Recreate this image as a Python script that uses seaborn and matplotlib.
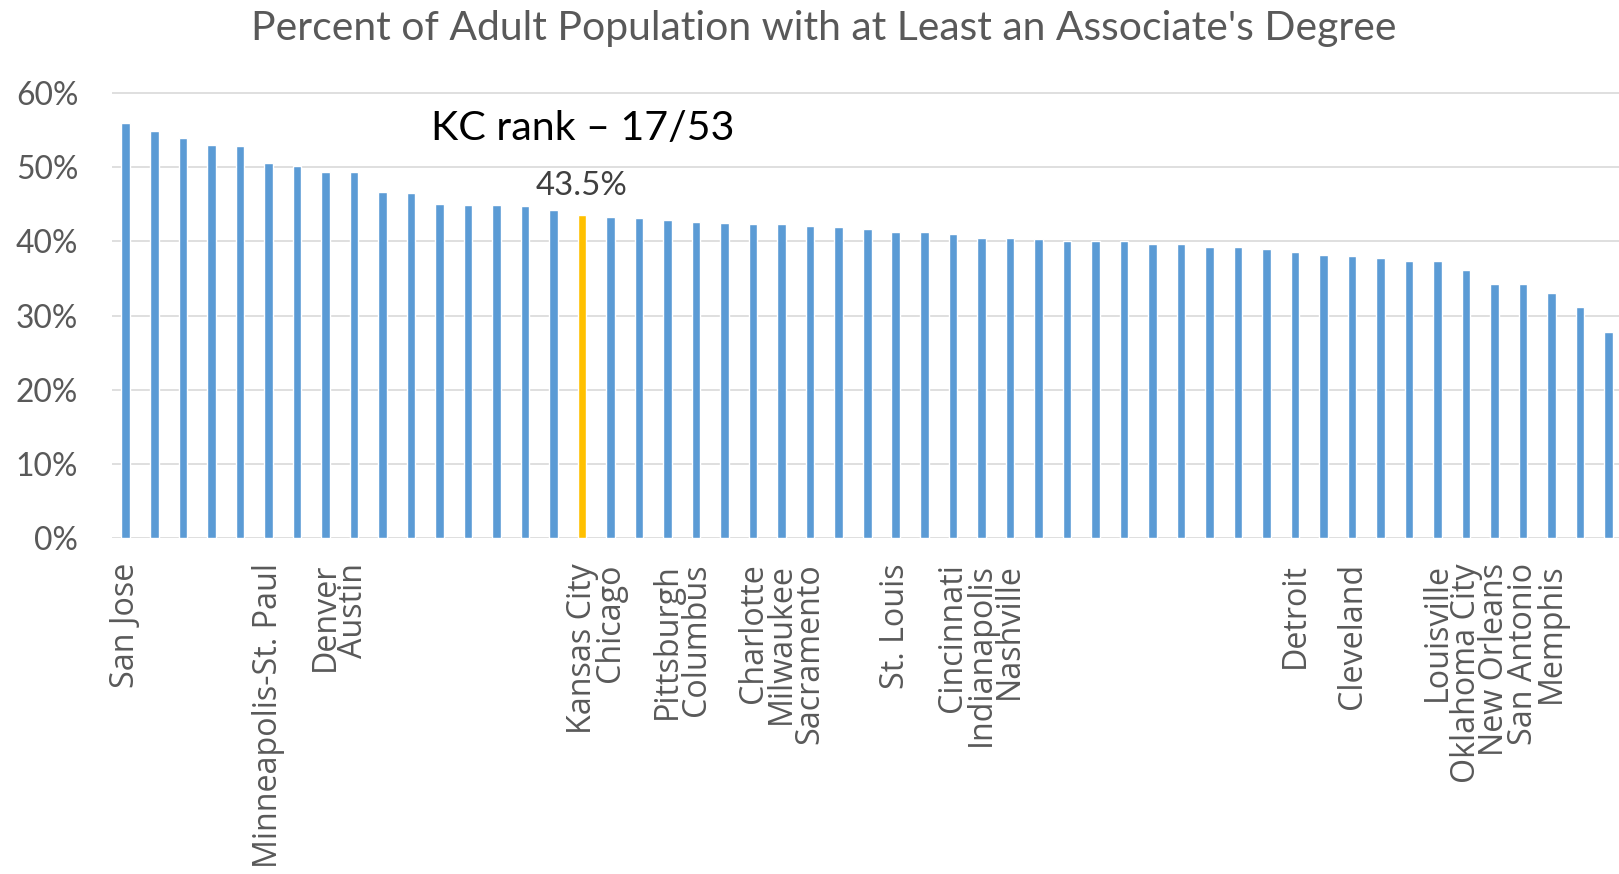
import numpy as np
import pandas as pd
import matplotlib
matplotlib.use("Agg")
import matplotlib.pyplot as plt
import seaborn as sns
from matplotlib.ticker import PercentFormatter, FixedLocator

# ---------------- data ----------------
title = "Percent of Adult Population with at Least an Associate's Degree"
annotation = "KC rank \u2013 17/53"

cities = [
    "San Jose", "", "", "", "", "Minneapolis-St. Paul", "", "Denver", "Austin", "",
    "", "", "", "", "", "", "Kansas City", "Chicago", "", "Pittsburgh",
    "Columbus", "", "Charlotte", "Milwaukee", "Sacramento", "", "", "St. Louis", "", "Cincinnati",
    "Indianapolis", "Nashville", "", "", "", "", "", "", "", "",
    "", "Detroit", "", "Cleveland", "", "", "Louisville", "Oklahoma City", "New Orleans", "San Antonio",
    "Memphis", "", "",
]
values = [
    55.9, 54.9, 53.9, 53.0, 52.8, 50.5, 50.2, 49.3, 49.3, 46.6,
    46.5, 45.1, 44.9, 44.9, 44.7, 44.2, 43.5, 43.3, 43.1, 42.9,
    42.6, 42.5, 42.4, 42.3, 42.1, 42.0, 41.6, 41.3, 41.2, 41.0,
    40.5, 40.4, 40.3, 40.0, 40.0, 40.0, 39.7, 39.6, 39.3, 39.3,
    39.0, 38.5, 38.2, 38.0, 37.8, 37.3, 37.3, 36.2, 34.3, 34.2,
    33.1, 31.1, 27.8,
]
highlight = "Kansas City"
yticks = [0.0, 0.1, 0.2, 0.3, 0.4, 0.5, 0.6]

df = pd.DataFrame({
    "rank": list(range(1, len(values) + 1)),
    "share": [v / 100 for v in values],
    "city": cities,
})
df["group"] = np.where(df["city"] == highlight, "KC", "Other")

# ---------------- figure ----------------
W, H, DPI = 1619, 874, 100
sns.set_theme(style="white")
plt.rcParams["font.family"] = ["Lato", "DejaVu Sans"]

fig = plt.figure(figsize=(W / DPI, H / DPI), dpi=DPI)
fig.patch.set_facecolor("white")

y0_px, ytop_val = 538.0, 0.62
px_per_unit = (538.0 - 93.0) / 0.6
ytop_px = y0_px - ytop_val * px_per_unit
left_px, right_px = 111.5, 1623.0
ax = fig.add_axes([left_px / W, 1 - y0_px / H, (right_px - left_px) / W, (y0_px - ytop_px) / H])

sns.barplot(
    data=df, x="rank", y="share", hue="group",
    palette={"Other": "#5B9BD5", "KC": "#FFC000"},
    dodge=False, width=0.30, saturation=1, legend=False, ax=ax,
)

ax.set_xlim(-0.5, len(values) - 0.5)
ax.set_ylim(0, ytop_val)
ax.yaxis.set_major_locator(FixedLocator(yticks))
ax.yaxis.set_major_formatter(PercentFormatter(1.0, decimals=0))
ax.grid(axis="y", color="#D9D9D9", linewidth=1.2)
ax.grid(axis="x", visible=False)
ax.set_axisbelow(True)
for s in ax.spines.values():
    s.set_visible(False)
ax.set_xlabel("")
ax.set_ylabel("")

ax.set_xticks(range(len(cities)))
ax.set_xticklabels(cities, rotation=90, ha="center", va="top", color="#595959")
ax.tick_params(axis="x", length=0, pad=18)
ax.tick_params(axis="y", length=0, pad=24, labelcolor="#595959")

# Title and annotations
t_title = fig.text(823.5 / W, 1 - 40 / H, title, ha="center", va="baseline",
                   color="#595959", fontsize=26)
kc_idx = cities.index(highlight)
kc_val = df["share"][kc_idx]
t_rank = fig.text(582.5 / W, 1 - 140 / H, annotation, ha="center", va="baseline",
                  color="black", fontsize=26)
t_val = ax.annotate(f"{values[kc_idx]:.1f}%", xy=(kc_idx, kc_val), xytext=(0, 15),
                    textcoords="offset points", ha="center", va="baseline",
                    color="#404040", fontsize=18)

# ---- fit font sizes to measured widths from the reference ----
fig.canvas.draw()
r = fig.canvas.get_renderer()

def fit_width(t, target):
    w = t.get_window_extent(r).width
    t.set_fontsize(t.get_fontsize() * target / w)

fit_width(t_title, 1145)
fit_width(t_rank, 304)
fit_width(t_val, 92)

ylabs = ax.get_yticklabels()
w60 = [l for l in ylabs if l.get_text() == "60%"][0].get_window_extent(r).width
ysize = ylabs[0].get_fontsize() * 62 / w60
ax.tick_params(axis="y", labelsize=ysize)

for l in ax.get_xticklabels():
    l.set_fontfamily(["Open Sans", "DejaVu Sans"])
fig.canvas.draw()
xlabs = ax.get_xticklabels()
mp = [l for l in xlabs if l.get_text() == "Minneapolis-St. Paul"][0]
hsz = mp.get_window_extent(r).height
xsize = mp.get_fontsize() * 306 / hsz
for l in xlabs:
    l.set_fontsize(xsize)
    l.set_fontfamily(["Open Sans", "DejaVu Sans"])

fig.savefig("out.png", dpi=DPI, facecolor="white")
